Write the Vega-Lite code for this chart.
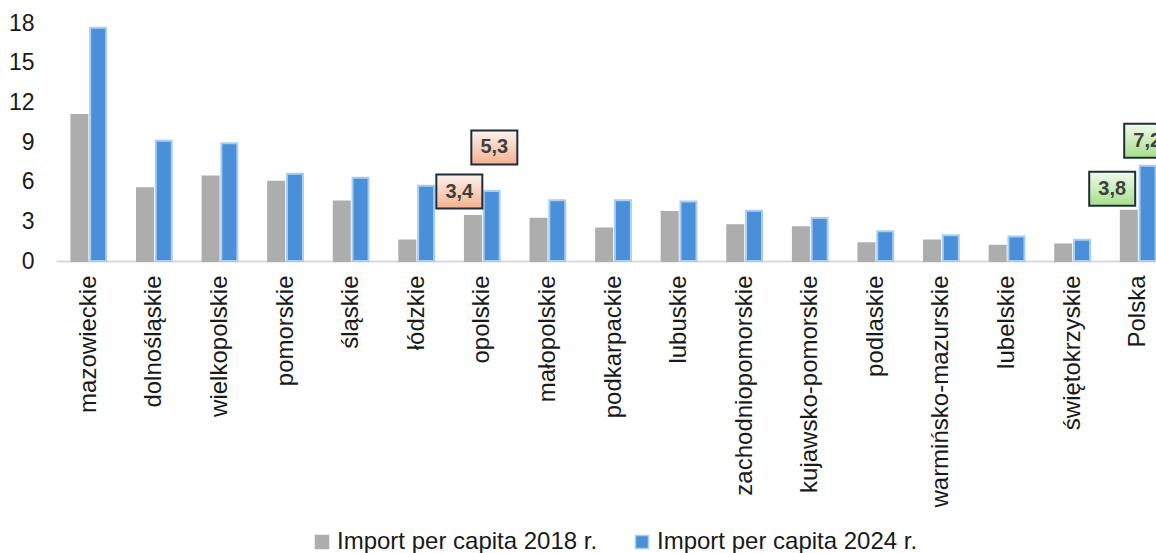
{
  "$schema": "https://vega.github.io/schema/vega-lite/v6.json",
  "width": 1115,
  "height": 238,
  "padding": {"left": 8, "top": 12, "right": 0, "bottom": 0},
  "background": "white",
  "config": {"view": {"stroke": null}, "font": "Liberation Sans", "legend": {"layout": {"bottom": {"anchor": "middle"}}}},
  "data": {
    "values": [
      {"region": "mazowieckie", "series": "Import per capita 2018 r.", "value": 11.05},
      {"region": "mazowieckie", "series": "Import per capita 2024 r.", "value": 17.65},
      {"region": "dolnośląskie", "series": "Import per capita 2018 r.", "value": 5.5},
      {"region": "dolnośląskie", "series": "Import per capita 2024 r.", "value": 9.1},
      {"region": "wielkopolskie", "series": "Import per capita 2018 r.", "value": 6.4},
      {"region": "wielkopolskie", "series": "Import per capita 2024 r.", "value": 8.9},
      {"region": "pomorskie", "series": "Import per capita 2018 r.", "value": 6.0},
      {"region": "pomorskie", "series": "Import per capita 2024 r.", "value": 6.6},
      {"region": "śląskie", "series": "Import per capita 2018 r.", "value": 4.5},
      {"region": "śląskie", "series": "Import per capita 2024 r.", "value": 6.3},
      {"region": "łódzkie", "series": "Import per capita 2018 r.", "value": 1.55},
      {"region": "łódzkie", "series": "Import per capita 2024 r.", "value": 5.7},
      {"region": "opolskie", "series": "Import per capita 2018 r.", "value": 3.4, "label": "3,4"},
      {"region": "opolskie", "series": "Import per capita 2024 r.", "value": 5.3, "label": "5,3"},
      {"region": "małopolskie", "series": "Import per capita 2018 r.", "value": 3.2},
      {"region": "małopolskie", "series": "Import per capita 2024 r.", "value": 4.6},
      {"region": "podkarpackie", "series": "Import per capita 2018 r.", "value": 2.45},
      {"region": "podkarpackie", "series": "Import per capita 2024 r.", "value": 4.6},
      {"region": "lubuskie", "series": "Import per capita 2018 r.", "value": 3.7},
      {"region": "lubuskie", "series": "Import per capita 2024 r.", "value": 4.5},
      {"region": "zachodniopomorskie", "series": "Import per capita 2018 r.", "value": 2.7},
      {"region": "zachodniopomorskie", "series": "Import per capita 2024 r.", "value": 3.8},
      {"region": "kujawsko-pomorskie", "series": "Import per capita 2018 r.", "value": 2.55},
      {"region": "kujawsko-pomorskie", "series": "Import per capita 2024 r.", "value": 3.25},
      {"region": "podlaskie", "series": "Import per capita 2018 r.", "value": 1.35},
      {"region": "podlaskie", "series": "Import per capita 2024 r.", "value": 2.25},
      {"region": "warmińsko-mazurskie", "series": "Import per capita 2018 r.", "value": 1.55},
      {"region": "warmińsko-mazurskie", "series": "Import per capita 2024 r.", "value": 1.95},
      {"region": "lubelskie", "series": "Import per capita 2018 r.", "value": 1.15},
      {"region": "lubelskie", "series": "Import per capita 2024 r.", "value": 1.85},
      {"region": "świętokrzyskie", "series": "Import per capita 2018 r.", "value": 1.25},
      {"region": "świętokrzyskie", "series": "Import per capita 2024 r.", "value": 1.6},
      {"region": "Polska", "series": "Import per capita 2018 r.", "value": 3.8, "label": "3,8"},
      {"region": "Polska", "series": "Import per capita 2024 r.", "value": 7.2, "label": "7,2"}
    ]
  },
  "encoding": {
    "x": {
      "field": "region", "type": "nominal", "sort": null,
      "scale": {"paddingInner": 0.47, "paddingOuter": 0.235},
      "axis": {
        "title": null, "labelAngle": -90, "labelAlign": "right", "labelBaseline": "middle",
        "labelFontSize": 24, "labelColor": "#1a1a1a", "labelPadding": 14, "labelLimit": 400,
        "ticks": false, "domainColor": "#d9d9d9", "domainWidth": 2, "grid": false
      }
    },
    "y": {
      "field": "value", "type": "quantitative",
      "scale": {"domain": [0, 18]},
      "axis": {
        "title": null, "values": [0, 3, 6, 9, 12, 15, 18], "labelFontSize": 23,
        "labelColor": "#1a1a1a", "labelPadding": 22, "ticks": false, "domain": false, "grid": false
      }
    }
  },
  "layer": [
    {
      "mark": {"type": "bar", "strokeWidth": 2},
      "encoding": {
        "xOffset": {"field": "series", "type": "nominal", "scale": {"paddingInner": 0.15}},
        "color": {
          "field": "series", "type": "nominal",
          "scale": {"domain": ["Import per capita 2018 r.", "Import per capita 2024 r."], "range": ["#adadad", "#4a90d9"]},
          "legend": {
            "title": null, "orient": "bottom", "direction": "horizontal", "labelFontSize": 24,
            "labelColor": "#1a1a1a", "symbolType": "square", "symbolSize": 169, "columnPadding": 32,
            "labelOffset": 3, "offset": 22, "labelLimit": 400
          }
        },
        "stroke": {
          "field": "series", "type": "nominal",
          "scale": {"domain": ["Import per capita 2018 r.", "Import per capita 2024 r."], "range": ["#adadad", "#a8cdf3"]},
          "legend": null
        }
      }
    },
    {
      "transform": [{"filter": "datum.label == '3,4'"}],
      "layer": [
        {"mark": {"type": "point", "shape": "M-1,-0.74L1,-0.74L1,0.74L-1,0.74Z", "size": 2116, "filled": true, "opacity": 1, "stroke": "#1f2d3d", "strokeWidth": 2, "xOffset": -23, "yOffset": -24.5,
          "fill": {"gradient": "linear", "x1": 0, "y1": 0, "x2": 0, "y2": 1, "stops": [{"offset": 0, "color": "#fdf3ee"}, {"offset": 1, "color": "#f3b18e"}]}}},
        {"mark": {"type": "text", "font": "Liberation Sans", "fontWeight": "bold", "fontSize": 20, "color": "#404040", "xOffset": -23, "yOffset": -24.5, "baseline": "middle"},
          "encoding": {"text": {"field": "label"}}}
      ]
    },
    {
      "transform": [{"filter": "datum.label == '5,3'"}],
      "layer": [
        {"mark": {"type": "point", "shape": "M-1,-0.74L1,-0.74L1,0.74L-1,0.74Z", "size": 2116, "filled": true, "opacity": 1, "stroke": "#1f2d3d", "strokeWidth": 2, "xOffset": 12, "yOffset": -43.5,
          "fill": {"gradient": "linear", "x1": 0, "y1": 0, "x2": 0, "y2": 1, "stops": [{"offset": 0, "color": "#fdf3ee"}, {"offset": 1, "color": "#f3b18e"}]}}},
        {"mark": {"type": "text", "font": "Liberation Sans", "fontWeight": "bold", "fontSize": 20, "color": "#404040", "xOffset": 12, "yOffset": -43.5, "baseline": "middle"},
          "encoding": {"text": {"field": "label"}}}
      ]
    },
    {
      "transform": [{"filter": "datum.label == '3,8'"}],
      "layer": [
        {"mark": {"type": "point", "shape": "M-1,-0.74L1,-0.74L1,0.74L-1,0.74Z", "size": 2116, "filled": true, "opacity": 1, "stroke": "#1f2d3d", "strokeWidth": 2, "xOffset": -26, "yOffset": -22,
          "fill": {"gradient": "linear", "x1": 0, "y1": 0, "x2": 0, "y2": 1, "stops": [{"offset": 0, "color": "#f0faeb"}, {"offset": 1, "color": "#a6df8a"}]}}},
        {"mark": {"type": "text", "font": "Liberation Sans", "fontWeight": "bold", "fontSize": 20, "color": "#404040", "xOffset": -26, "yOffset": -22, "baseline": "middle"},
          "encoding": {"text": {"field": "label"}}}
      ]
    },
    {
      "transform": [{"filter": "datum.label == '7,2'"}],
      "layer": [
        {"mark": {"type": "point", "shape": "M-1,-0.74L1,-0.74L1,0.74L-1,0.74Z", "size": 2116, "filled": true, "opacity": 1, "stroke": "#1f2d3d", "strokeWidth": 2, "xOffset": 9, "yOffset": -25,
          "fill": {"gradient": "linear", "x1": 0, "y1": 0, "x2": 0, "y2": 1, "stops": [{"offset": 0, "color": "#f0faeb"}, {"offset": 1, "color": "#a6df8a"}]}}},
        {"mark": {"type": "text", "font": "Liberation Sans", "fontWeight": "bold", "fontSize": 20, "color": "#404040", "xOffset": 9, "yOffset": -25, "baseline": "middle"},
          "encoding": {"text": {"field": "label"}}}
      ]
    }
  ]
}
